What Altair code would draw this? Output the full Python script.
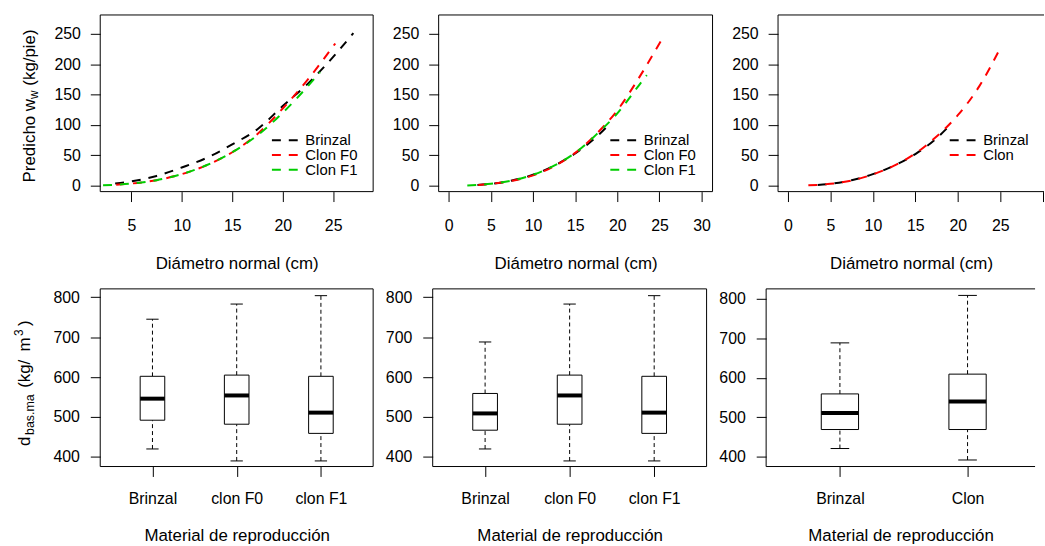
import json
import altair as alt
import pandas as pd

FONT = "Liberation Sans"
INK = "#000000"
COL = {"Brinzal": "#000000", "Clon F0": "#FF0000", "Clon F1": "#00CD00", "Clon": "#FF0000"}

# ---------------- top row: predicted weight (kg/tree) vs diameter (cm) ----------------
tl_brinzal_x = [3.4, 5, 7.5, 10, 12.5, 15, 17.5, 20, 22.5, 25, 27]
tl_brinzal_y = [3.5, 7, 16, 30, 46, 68, 93, 131, 168, 212, 251]
tl_f0_x = [3.5, 5, 7.5, 10, 12.5, 15, 17.5, 20, 22.5, 25.2]
tl_f0_y = [1.5, 3.5, 9, 19, 34, 55, 85, 127, 175, 234]
tl_f1_x = [2.2, 5, 7.5, 10, 12.5, 15, 17.5, 20, 22.5, 23.7]
tl_f1_y = [0.5, 3.5, 9, 19, 34, 55, 83, 120, 164, 187]

tm_brinzal_x = [3.4, 5, 7.5, 10, 12.5, 15, 17.5, 18.9]
tm_brinzal_y = [1, 3, 8.5, 18, 33, 53, 80, 99]
tm_f0_x = [3.5, 5, 7.5, 10, 12.5, 15, 17.5, 20, 22.5, 25.2]
tm_f0_y = [1, 3, 8, 17, 32, 54, 85, 124, 176, 239]
tm_f1_x = [2.2, 5, 7.5, 10, 12.5, 15, 17.5, 20, 22.5, 23.5]
tm_f1_y = [0.3, 3.2, 8.5, 18, 33, 54, 84, 119, 164, 182]

tr_brinzal_x = [3.5, 5, 7.5, 10, 12.5, 15, 17.5, 18.9]
tr_brinzal_y = [1, 3, 9, 19, 33, 52, 78, 97]
tr_clon_x = [2.4, 5, 7.5, 10, 12.5, 15, 17.5, 20, 22.5, 24.8]
tr_clon_y = [0.5, 3, 8.5, 18.5, 33, 53, 81, 116, 163, 221]

top_yticks = [0, 50, 100, 150, 200, 250]
tl_xticks = [5, 10, 15, 20, 25]
tmr_xticks = [0, 5, 10, 15, 20, 25, 30]

# ---------------- bottom row: basic density boxplots (kg/m3) ----------------
bl_groups = ["Brinzal", "clon F0", "clon F1"]
bl_low = [420, 390, 390]
bl_q1 = [492, 482, 459]
bl_med = [546, 554, 511]
bl_q3 = [602, 605, 602]
bl_high = [745, 783, 804]

bm_groups = ["Brinzal", "clon F0", "clon F1"]
bm_low = [420, 390, 390]
bm_q1 = [467, 482, 459]
bm_med = [509, 554, 511]
bm_q3 = [559, 605, 602]
bm_high = [688, 783, 804]

br_groups = ["Brinzal", "Clon"]
br_low = [421, 392]
br_q1 = [469, 469]
br_med = [511, 540]
br_q3 = [559, 609]
br_high = [688, 808]

bot_yticks = [400, 500, 600, 700, 800]

TOP_H = 178
BOT_H = 179


def single(values):
    return alt.Data(values=[values])


def hline(x1, x2, y, color=INK, width=1, dash=None):
    kw = dict(color=color, strokeWidth=width)
    if dash:
        kw["strokeDash"] = dash
    return alt.Chart(single({"k": 0})).mark_rule(**kw).encode(
        x=alt.value(x1), x2=alt.value(x2), y=alt.value(y))


def vline(x, y1, y2, color=INK):
    return alt.Chart(single({"k": 0})).mark_rule(color=color, strokeWidth=1).encode(
        x=alt.value(x), y=alt.value(y1), y2=alt.value(y2))


def frame(w, h, right=True):
    parts = [hline(0, w, 0), hline(0, w, h), vline(0, 0, h)]
    if right:
        parts.append(vline(w, 0, h))
    return parts


def rot_text(t, x, y, size):
    return alt.Chart(single({"t": t})).mark_text(
        font=FONT, fontSize=size, angle=270, align="left", baseline="alphabetic", color=INK
    ).encode(x=alt.value(x), y=alt.value(y), text="t:N")


def plain_text(t, x, y, size):
    return alt.Chart(single({"t": t})).mark_text(
        font=FONT, fontSize=size, align="left", baseline="middle", color=INK
    ).encode(x=alt.value(x), y=alt.value(y), text="t:N")


def x_axis(values, title, label_pad, title_y, label_expr=None):
    kw = dict(values=values, title=title, domain=False, grid=False, ticks=True, tickSize=10,
              tickWidth=1, tickColor=INK, labelFont=FONT, labelFontSize=16, labelColor=INK,
              labelPadding=label_pad, labelBaseline="alphabetic", labelFlush=False,
              labelOverlap=False, labelAngle=0, titleFont=FONT, titleFontSize=17,
              titleFontWeight="normal", titleColor=INK, titleBaseline="alphabetic",
              titleY=title_y)
    if label_expr:
        kw["labelExpr"] = label_expr
    return alt.Axis(**kw)


def y_axis(values, label_pad):
    return alt.Axis(values=values, title=None, domain=False, grid=False, ticks=True, tickSize=10,
                    tickWidth=1, tickColor=INK, labelFont=FONT, labelFontSize=16, labelColor=INK,
                    labelPadding=label_pad, labelFlush=False, labelOverlap=False, labelAngle=0,
                    labelAlign="right", labelBaseline="middle")


def curve_panel(series, xdom, xticks, width, extra=(), open_right=False, hide_label=None):
    rows = [{"serie": n, "d": x, "w": y} for n, xs, ys in series for x, y in zip(xs, ys)]
    df = pd.DataFrame(rows)
    names = [n for n, _, _ in series]
    xs = alt.Scale(domain=xdom, nice=False, zero=False)
    ys = alt.Scale(domain=[-9.8, 281.0], nice=False, zero=False)
    expr = None
    if hide_label is not None:
        expr = f"datum.value == {hide_label} ? '' : datum.label"
    xa = x_axis(xticks, "Diámetro normal (cm)", 29, 77.3, expr)
    ya = y_axis(top_yticks, 10)
    lines = alt.Chart(df).mark_line(strokeWidth=2, strokeDash=[9, 8], interpolate="monotone").encode(
        x=alt.X("d:Q", scale=xs, axis=xa),
        y=alt.Y("w:Q", scale=ys, axis=ya),
        color=alt.Color("serie:N", scale=alt.Scale(domain=names, range=[COL[n] for n in names]),
                        legend=None),
    )
    layers = [lines]
    for i, n in enumerate(names):
        ly = 126.3 + 14.8 * i
        layers.append(hline(173, 199, ly, color=COL[n], width=2, dash=[9, 8]))
        layers.append(plain_text(n, 206.7, ly, 15))
    layers += frame(width, TOP_H, right=not open_right)
    layers += list(extra)
    return alt.layer(*layers).properties(width=width, height=TOP_H)


def box_panel(groups, low, q1, med, q3, high, xdom, ydom, width, extra=(), open_right=False):
    n = len(groups)
    df = pd.DataFrame({"g": groups, "pos": list(range(1, n + 1)), "low": low, "q1": q1,
                       "med": med, "q3": q3, "high": high})
    xs = alt.Scale(domain=xdom, nice=False, zero=False)
    ys = alt.Scale(domain=ydom, nice=False, zero=False)
    expr = json.dumps(groups) + "[datum.value - 1]"
    xa = x_axis(list(range(1, n + 1)), "Material de reproducción", 27, 74.5, expr)
    ya = y_axis(bot_yticks, 11)
    base = alt.Chart(df).transform_calculate(
        bx1="datum.pos - 0.146", bx2="datum.pos + 0.146",
        sx1="datum.pos - 0.073", sx2="datum.pos + 0.073")

    def X(f):
        return alt.X(f"{f}:Q", scale=xs, axis=xa)

    def Y(f):
        return alt.Y(f"{f}:Q", scale=ys, axis=ya)

    w_up = base.mark_rule(color=INK, strokeWidth=1, strokeDash=[4, 3]).encode(
        x=X("pos"), y=Y("q3"), y2="high:Q")
    w_lo = base.mark_rule(color=INK, strokeWidth=1, strokeDash=[4, 3]).encode(
        x=X("pos"), y=Y("low"), y2="q1:Q")
    c_up = base.mark_rule(color=INK, strokeWidth=1).encode(x=X("sx1"), x2="sx2:Q", y=Y("high"))
    c_lo = base.mark_rule(color=INK, strokeWidth=1).encode(x=X("sx1"), x2="sx2:Q", y=Y("low"))
    box = base.mark_rect(fill="white", stroke=INK, strokeWidth=1).encode(
        x=X("bx1"), x2="bx2:Q", y=Y("q1"), y2="q3:Q")
    md = base.mark_rule(color=INK, strokeWidth=4).encode(x=X("bx1"), x2="bx2:Q", y=Y("med"))
    layers = [w_up, w_lo, c_up, c_lo, box, md]
    layers += frame(width, BOT_H, right=not open_right)
    layers += list(extra)
    return alt.layer(*layers).properties(width=width, height=BOT_H)


# y titles with sub/superscripts, composed from pieces
tl_title = [
    rot_text("Predicho w", -65.5, 168.7, 17),
    rot_text("w", -62.5, 84.6, 12),
    rot_text("(kg/pie)", -65.5, 71.2, 17),
]
bl_title = [
    rot_text("d", -71, 158.4, 17),
    rot_text("bas.ma", -67, 147.2, 12.5),
    rot_text("(kg/", -71, 99.7, 17),
    rot_text("m", -71, 63, 17),
    rot_text("3", -78, 47.5, 12),
    rot_text(")", -71, 37.5, 17),
]
# invisible (white) anchors fixing the outer extents of each row
tl_anchor = [hline(-91.5, -90, -12.5, color="white"), hline(-91.5, -90, 268, color="white")]
bl_anchor = [hline(-100.5, -99, -6.3, color="white")]

tl = curve_panel([("Brinzal", tl_brinzal_x, tl_brinzal_y), ("Clon F0", tl_f0_x, tl_f0_y),
                  ("Clon F1", tl_f1_x, tl_f1_y)],
                 [1.92, 28.96], tl_xticks, 275, extra=tl_title + tl_anchor)
tm = curve_panel([("Brinzal", tm_brinzal_x, tm_brinzal_y), ("Clon F0", tm_f0_x, tm_f0_y),
                  ("Clon F1", tm_f1_x, tm_f1_y)],
                 [-1.2, 31.3], tmr_xticks, 276)
tr = curve_panel([("Brinzal", tr_brinzal_x, tr_brinzal_y), ("Clon", tr_clon_x, tr_clon_y)],
                 [-1.169, 30.15], tmr_xticks, 268, open_right=True, hide_label=30)

bl = box_panel(bl_groups, bl_low, bl_q1, bl_med, bl_q3, bl_high, [0.38, 3.62], [376, 821], 275,
               extra=bl_title + bl_anchor)
bm = box_panel(bm_groups, bm_low, bm_q1, bm_med, bm_q3, bm_high, [0.38, 3.62], [376, 821], 276)
br = box_panel(br_groups, br_low, br_q1, br_med, br_q3, br_high, [0.422, 2.529], [375.5, 824.5],
               271, open_right=True)

top = alt.hconcat(tl, tm, tr, spacing=66, bounds="flush").resolve_scale(color="independent")
bottom = alt.hconcat(bl, bm, br, spacing=60, bounds="flush")

chart = alt.ConcatChart(concat=[top, bottom], columns=1, spacing=0, align="none").properties(
    padding=0, background="white"
).configure_view(stroke=None)

chart.save("out.html", embed_options={"renderer": "svg", "actions": False})
